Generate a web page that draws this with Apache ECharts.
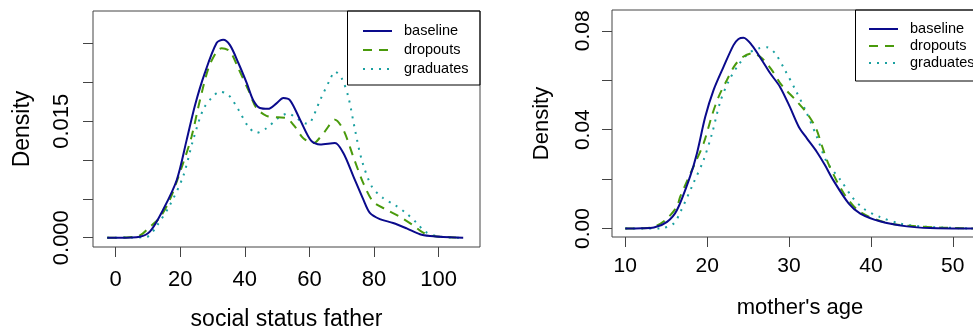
<!DOCTYPE html>
<html>
<head>
<meta charset="UTF-8">
<title>Density</title>
<script src="https://cdn.jsdelivr.net/npm/echarts@6/dist/echarts.min.js"></script>
<style>
  html, body { margin: 0; padding: 0; background: #fff; }
  #chart { width: 973px; height: 331px; }
</style>
</head>
<body>
<div id="chart"></div>
<script>
// density curves, [x, density]
var fatherBaseline = [[-2.6,0],[1.3,0],[7.5,0.00013],[10.6,0.00077],[14.7,0.0036],[18.9,0.0074],[22.0,0.0126],[24.6,0.0171],[27.6,0.0212],[31.3,0.0251],[33.3,0.0255],[35.4,0.0248],[38.0,0.0225],[40.6,0.0199],[42.6,0.0177],[44.7,0.0167],[47.2,0.0166],[49.8,0.0173],[51.9,0.018],[54.0,0.0177],[57.1,0.0152],[60.5,0.0125],[63.3,0.012],[67.9,0.0122],[70.5,0.0109],[73.6,0.0079],[76.7,0.0049],[78.7,0.0032],[81.8,0.0024],[85.9,0.0019],[90.1,0.0012],[94.2,0.00044],[97.3,0.00022],[103.5,0.00005],[107.6,0]];
var fatherDropouts = [[-2.6,0],[3,0.00003],[7.5,0.0003],[10.6,0.0014],[13.7,0.0026],[16.8,0.0049],[20.9,0.0096],[23.5,0.013],[26.1,0.0177],[28.7,0.0218],[31.3,0.024],[32.8,0.0244],[35.4,0.024],[38.0,0.0218],[41.1,0.019],[43.6,0.0167],[46.7,0.0157],[50.3,0.0155],[52.9,0.0154],[55.5,0.0143],[58.1,0.0128],[61.2,0.0122],[62.2,0.0124],[64.8,0.0137],[67.9,0.0152],[70.5,0.0139],[73.6,0.0104],[76.7,0.007],[79.8,0.0046],[83.9,0.0036],[88.0,0.0027],[92.1,0.0016],[95.2,0.00065],[98.3,0.00022],[103.5,0.00006],[107.6,0]];
var fatherGraduates = [[-2.6,0],[4,0.00002],[9.6,0.0001],[12.7,0.0015],[16.8,0.0042],[20.9,0.0079],[24.0,0.0126],[27.1,0.0165],[29.7,0.018],[32.3,0.0188],[34.9,0.0184],[38.0,0.0165],[41.1,0.0143],[43.6,0.0135],[46.7,0.0141],[50.3,0.0154],[53.4,0.016],[56.0,0.0154],[59.1,0.0147],[60.2,0.0148],[63.3,0.0177],[66.3,0.0203],[67.9,0.0214],[70.0,0.0205],[72.0,0.0182],[74.1,0.0139],[76.2,0.01],[79.3,0.0066],[82.8,0.0051],[86.5,0.0042],[90.1,0.0031],[93.2,0.0019],[95.8,0.0008],[99.4,0.0002],[103.5,0.00003],[107.6,0]];

var motherBaseline = [[10,0],[12,0.0001],[13.5,0.0004],[15.1,0.0027],[16.3,0.0074],[17.9,0.0209],[18.75,0.0304],[19.77,0.0452],[20.78,0.056],[22.0,0.0654],[23.22,0.0742],[23.83,0.0767],[24.44,0.0772],[25.45,0.0742],[26.67,0.0682],[27.7,0.0628],[28.9,0.0573],[30.1,0.0492],[31.2,0.0411],[32.2,0.0364],[33.4,0.031],[34.4,0.0256],[35.4,0.0196],[37.3,0.0101],[38.7,0.0061],[41.1,0.003],[44.4,0.0009],[47.2,0.0002],[52.5,0]];
var motherDropouts = [[10,0],[12,0.0001],[13.5,0.0007],[14.9,0.0034],[16.3,0.0088],[16.7,0.0128],[18.5,0.0263],[19.56,0.0344],[20.6,0.0459],[21.4,0.0533],[22.4,0.06],[23.4,0.0661],[24.4,0.0695],[25.5,0.0709],[26.7,0.0689],[27.9,0.0641],[29.1,0.058],[30.8,0.052],[32.2,0.0466],[33.3,0.0405],[34.0,0.0337],[34.8,0.0263],[36.7,0.0142],[38.7,0.0067],[41.95,0.0023],[45.2,0.001],[48.5,0.0004],[52.5,0]];
var motherGraduates = [[10,0],[12,0],[14.3,0.0001],[15.9,0.002],[16.7,0.0065],[18.3,0.0182],[19.56,0.0277],[20.6,0.0385],[21.6,0.0513],[22.6,0.0594],[23.8,0.0661],[25.06,0.0709],[26.3,0.0729],[27.3,0.0733],[28.3,0.0709],[29.5,0.0641],[30.8,0.056],[32.0,0.0479],[33.4,0.0371],[34.6,0.027],[36.3,0.0196],[37.7,0.0128],[39.1,0.0081],[41.1,0.0047],[43.6,0.002],[46.0,0.0009],[48.9,0.0004],[52.5,0]];

var groupNames = ['baseline', 'dropouts', 'graduates'];
var groupColors = ['#0a0a8c', '#4a9a0c', '#1aa0a0'];
var groupDash = ['solid', [9, 7], [2, 6]];

var fatherTicks = [0, 20, 40, 60, 80, 100];
var fatherDensTicks = [0, 0.005, 0.01, 0.015, 0.02, 0.025];
var fatherDensLabels = [0, 0.015];
var motherTicks = [10, 20, 30, 40, 50];
var motherDensTicks = [0, 0.02, 0.04, 0.06, 0.08];
var motherDensLabels = [0, 0.04, 0.08];

var chart = echarts.init(document.getElementById('chart'));
var font = 'Liberation Sans, Arial, sans-serif';
var ink = '#444';

function xAx(idx, lo, hi, ticks, title, size, gap, margin) {
  return {
    type: 'value', gridIndex: idx, min: lo, max: hi,
    axisLine: { show: false, onZero: false },
    splitLine: { show: false },
    axisTick: { show: true, length: 10, customValues: ticks, lineStyle: { color: ink } },
    axisLabel: { customValues: ticks, margin: margin, color: '#000', fontSize: size - 1, fontFamily: font },
    name: title, nameLocation: 'middle', nameGap: gap,
    nameTextStyle: { color: '#000', fontSize: size, fontFamily: font }
  };
}
function yAx(idx, lo, hi, ticks, labels, digits, size, gap, margin) {
  return {
    type: 'value', gridIndex: idx, min: lo, max: hi,
    axisLine: { show: false, onZero: false },
    splitLine: { show: false },
    axisTick: { show: true, length: 10, customValues: ticks, lineStyle: { color: ink } },
    axisLabel: {
      customValues: labels, rotate: 90, margin: margin, color: '#000',
      fontSize: size - 1, fontFamily: font,
      formatter: function (v) { return v.toFixed(digits); }
    },
    name: 'Density', nameLocation: 'middle', nameGap: gap,
    nameTextStyle: { color: '#000', fontSize: size, fontFamily: font }
  };
}

var curves = [
  [fatherBaseline, fatherDropouts, fatherGraduates],
  [motherBaseline, motherDropouts, motherGraduates]
];
var series = [];
curves.forEach(function (set, g) {
  set.forEach(function (d, i) {
    series.push({
      name: groupNames[i], type: 'line', xAxisIndex: g, yAxisIndex: g,
      data: d, symbol: 'none', smooth: 0.3, clip: true,
      z: 5 - i,
      lineStyle: { color: groupColors[i], width: 2, type: groupDash[i] },
      itemStyle: { color: groupColors[i] }
    });
  });
});

function leg(left, top, gap) {
  return {
    data: groupNames, orient: 'vertical', left: left, top: top,
    padding: 0, itemGap: gap, itemWidth: 29, itemHeight: 16,
    itemStyle: { opacity: 0 },
    textStyle: { color: '#000', fontSize: 14.5, fontFamily: font, padding: [0, 0, 0, 7] },
    selectedMode: false
  };
}

chart.setOption({
  animation: false,
  backgroundColor: '#fff',
  grid: [
    { left: 93, top: 11, width: 387, height: 236, show: true, borderColor: ink, borderWidth: 1, outerBoundsMode: 'none' },
    { left: 612, top: 10, width: 376, height: 227, show: true, borderColor: ink, borderWidth: 1, outerBoundsMode: 'none' }
  ],
  xAxis: [
    xAx(0, -7.0, 112.8, fatherTicks, 'social status father', 23, 61, 22),
    xAx(1, 8.38, 54.3, motherTicks, "mother's age", 22, 60, 19)
  ],
  yAxis: [
    yAx(0, -0.0012, 0.0292, fatherDensTicks, fatherDensLabels, 3, 23, 59, 20),
    yAx(1, -0.0034, 0.0884, motherDensTicks, motherDensLabels, 2, 22, 59, 18)
  ],
  legend: [leg(362, 23.5, 4), leg(868, 21.5, 2)],
  graphic: [
    { type: 'rect', shape: { x: 347.5, y: 11, width: 132.5, height: 74 }, style: { fill: 'none', stroke: '#000', lineWidth: 1 }, z: 10 },
    { type: 'rect', shape: { x: 855.5, y: 10, width: 133, height: 71 }, style: { fill: 'none', stroke: '#000', lineWidth: 1 }, z: 10 }
  ],
  series: series
});
</script>
</body>
</html>
